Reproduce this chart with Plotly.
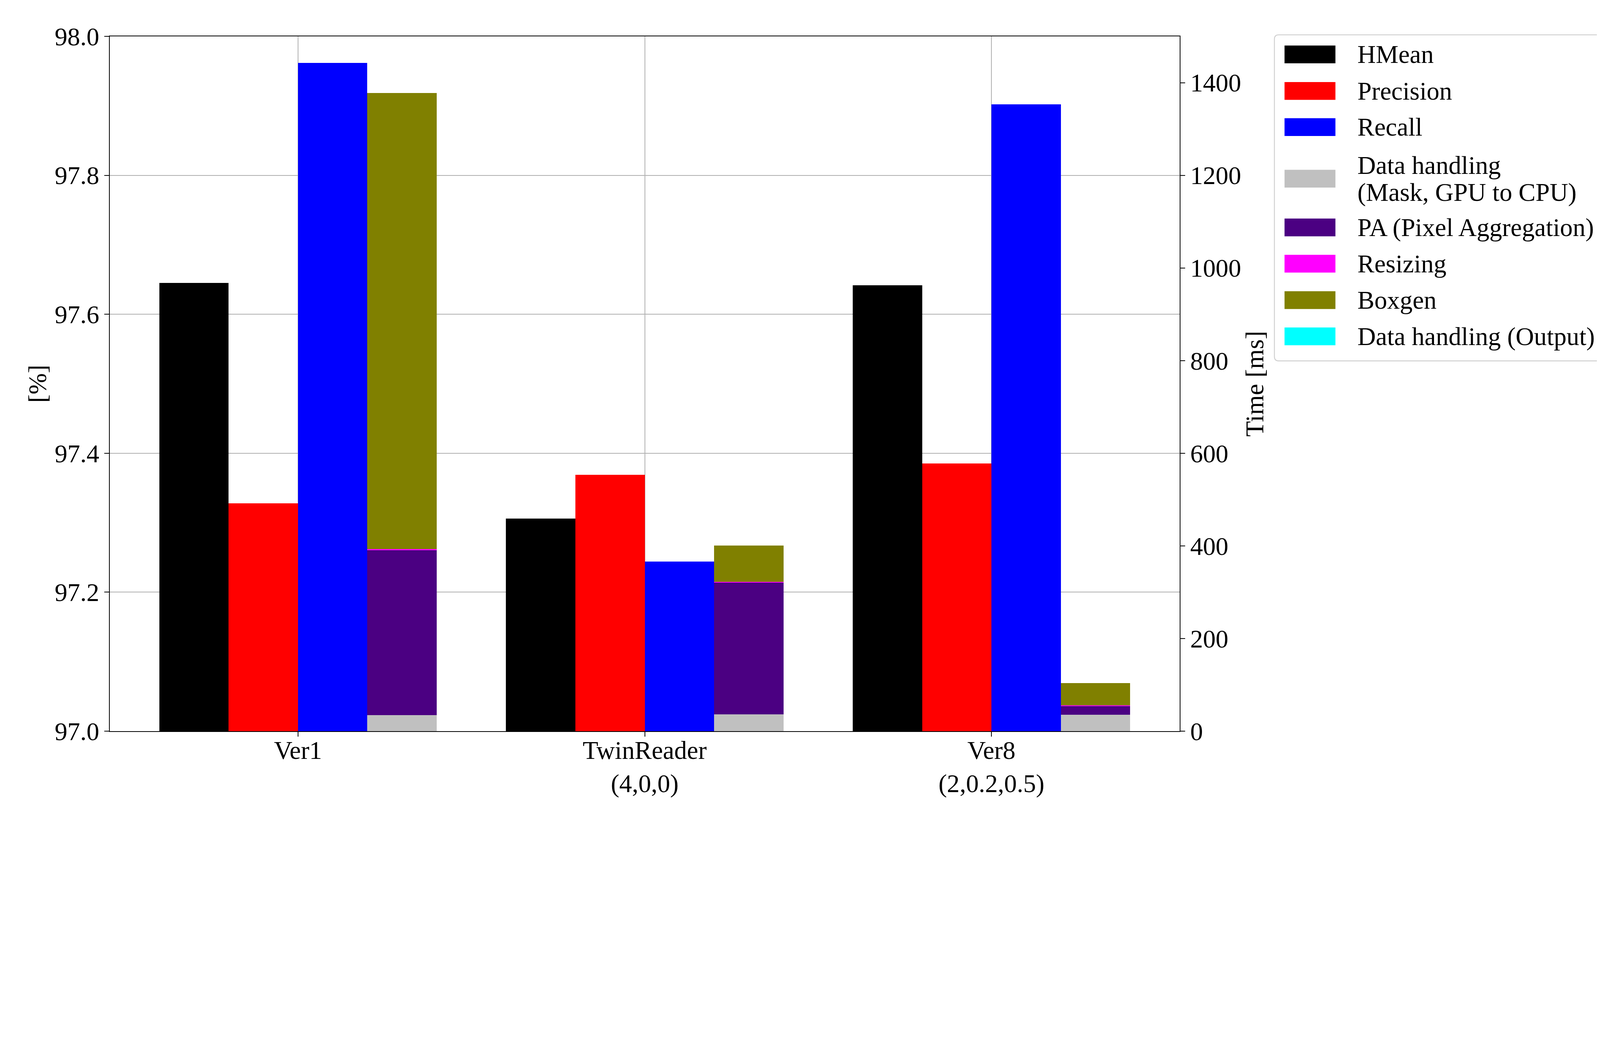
import plotly.graph_objects as go

# ---------------- data ----------------
categories = ["Ver1", "TwinReader<br>(4,0,0)", "Ver8<br>(2,0.2,0.5)"]

hmean = [97.645, 97.306, 97.642]
precision = [97.328, 97.369, 97.385]
recall = [97.962, 97.244, 97.902]

dh_mask = [34.6, 36.7, 35.1]
pa = [356.4, 284.1, 18.7]
resizing = [2.0, 1.2, 1.8]
boxgen = [984.8, 78.7, 48.4]
dh_output = [0.0, 0.0, 0.0]

left_ticks = [97.0, 97.2, 97.4, 97.6, 97.8, 98.0]
right_ticks = [0, 200, 400, 600, 800, 1000, 1200, 1400]

metric_names = ["HMean", "Precision", "Recall"]
time_names = ["Data handling<br>(Mask, GPU to CPU)", "PA (Pixel Aggregation)",
              "Resizing", "Boxgen", "Data handling (Output)"]

# ---------------- styles ----------------
# reference is 5324 x 2669 device px; page is laid out in CSS px
REF_W, REF_H = 5324, 2669
DPR = 1.274
BODY = 8  # default body margin of the html page (CSS px)
VW, VH = REF_W / DPR, REF_H / DPR
W, H = int(VW - 2 * BODY), int(VH - 2 * BODY)


def s(v):
    return v / DPR


def cx(px):  # reference x (device px) -> figure CSS px
    return px / DPR - BODY


def cy(py):
    return py / DPR - BODY


ML, MT = cx(358), cy(119)
MR, MB = W - cx(3848), H - cy(2384)
PW, PH = W - ML - MR, H - MT - MB
FONT = "Liberation Serif, Times New Roman, serif"
FS = s(83)
GRID = "#b0b0b0"
BAR_W = 0.2
metric_colors = ["#000000", "#ff0000", "#0000ff"]
metric_offsets = [-0.3, -0.1, 0.1]
time_colors = ["#c0c0c0", "#4b0082", "#ff00ff", "#808000", "#00ffff"]
time_offset = 0.3

idx = list(range(len(categories)))

fig = go.Figure()

for name, vals, col, off in zip(metric_names, [hmean, precision, recall],
                                metric_colors, metric_offsets):
    fig.add_trace(go.Bar(
        name=name, x=[i + off for i in idx], y=vals, width=BAR_W,
        marker=dict(color=col, line=dict(width=0)), yaxis="y",
        showlegend=False))

for name, vals, col in zip(time_names, [dh_mask, pa, resizing, boxgen, dh_output],
                           time_colors):
    fig.add_trace(go.Bar(
        name=name.replace("<br>", " "), x=[i + time_offset for i in idx], y=vals,
        width=BAR_W, marker=dict(color=col, line=dict(width=0)), yaxis="y2",
        showlegend=False))


def px2x(px):
    return (cx(px) - ML) / PW


def py2y(py):
    return (MT + PH - cy(py)) / PH


# ---------------- custom legend (matplotlib-like) ----------------
shapes = []
annotations = []
bx0, bx1, by0, by1 = 4157, 5234, 114, 1177
r = 14
rx, ry = s(r) / PW, s(r) / PH
X0, X1, Y0, Y1 = px2x(bx0), px2x(bx1), py2y(by0), py2y(by1)
path = (f"M {X0+rx},{Y0} L {X1-rx},{Y0} Q {X1},{Y0} {X1},{Y0-ry} "
        f"L {X1},{Y1+ry} Q {X1},{Y1} {X1-rx},{Y1} "
        f"L {X0+rx},{Y1} Q {X0},{Y1} {X0},{Y1+ry} "
        f"L {X0},{Y0-ry} Q {X0},{Y0} {X0+rx},{Y0} Z")
shapes.append(dict(type="path", xref="paper", yref="paper", path=path,
                   line=dict(color="#d0d0d0", width=s(3)), fillcolor="white",
                   layer="above"))

legend_names = metric_names + time_names
legend_colors = metric_colors + time_colors
row_centers = [178, 297, 415, 583, 742, 860, 979, 1097]
hx0, hx1, hh = 4190, 4356, 58
tx = 4425
for name, col, rcy in zip(legend_names, legend_colors, row_centers):
    shapes.append(dict(type="rect", xref="paper", yref="paper",
                       x0=px2x(hx0), x1=px2x(hx1),
                       y0=py2y(rcy - hh / 2), y1=py2y(rcy + hh / 2),
                       fillcolor=col, line=dict(width=0), layer="above"))
    lines = name.split("<br>")
    n = len(lines)
    step = 88
    for k, line in enumerate(lines):
        ly = rcy + (k - (n - 1) / 2) * step
        annotations.append(dict(x=px2x(tx), y=py2y(ly), xref="paper", yref="paper",
                                text=line, showarrow=False, xanchor="left",
                                yanchor="middle",
                                font=dict(family=FONT, size=FS, color="black")))

axis_common = dict(showline=True, linecolor="black", linewidth=s(3),
                   ticks="outside", ticklen=s(15), tickwidth=s(3), tickcolor="black",
                   zeroline=False,
                   tickfont=dict(family=FONT, size=FS, color="black"))

fig.update_layout(
    width=W, height=H,
    margin=dict(l=ML, r=MR, t=MT, b=MB, autoexpand=False),
    paper_bgcolor="white", plot_bgcolor="white",
    barmode="stack", bargap=0,
    font=dict(family=FONT, size=FS, color="black"),
    showlegend=False,
    xaxis=dict(range=[-0.543, 2.543], tickmode="array", tickvals=idx,
               ticktext=categories, showgrid=True, gridcolor=GRID, gridwidth=s(2.5),
               mirror=True, ticklabelstandoff=int(round(-s(27))), **axis_common),
    yaxis=dict(range=[97.0, 98.0], tickmode="array", tickvals=left_ticks,
               tickformat=".1f", showgrid=True, gridcolor=GRID, gridwidth=s(2.5),
               mirror=True,
               title=dict(text="[%]", standoff=0,
                          font=dict(family=FONT, size=FS, color="black")),
               **axis_common),
    yaxis2=dict(range=[0, 1500], tickmode="array", tickvals=right_ticks,
                overlaying="y", side="right", showgrid=False,
                title=dict(text="Time [ms]", standoff=s(16),
                           font=dict(family=FONT, size=FS, color="black")),
                **axis_common),
    shapes=shapes,
    annotations=annotations,
)

fig.write_html("out.html")
